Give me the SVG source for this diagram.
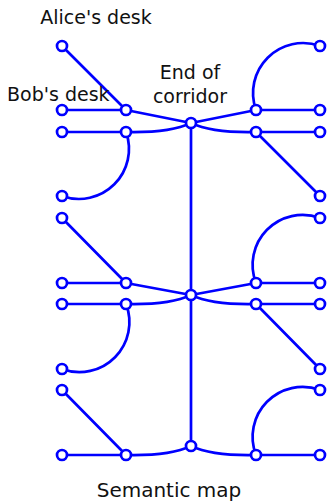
<svg xmlns="http://www.w3.org/2000/svg" width="328" height="502" viewBox="0 0 328 502">
<style>
.e{fill:none;stroke:#0000ff;stroke-width:2.7;stroke-linecap:round}
.n{fill:#ffffff;stroke:#0000ff;stroke-width:2.7}
.t{font-family:"DejaVu Sans",sans-serif;font-size:19px;fill:#111111}
</style>
<rect width="328" height="502" fill="#ffffff"/>
<g id="edges">
<path class="e" d="M191,123 V446"/>
<path class="e" d="M62,46 L126,110"/>
<path class="e" d="M62,110 H126"/>
<path class="e" d="M126,110 L191,123"/>
<path class="e" d="M62,132 H126"/>
<path class="e" d="M126,132 Q170,133 191,123"/>
<path class="e" d="M126,132 A50,50 0 0 1 62,196"/>
<path class="e" d="M191,123 L256,110"/>
<path class="e" d="M191,123 Q212,133 256,132"/>
<path class="e" d="M256,110 H320"/>
<path class="e" d="M256,110 A50,50 0 0 1 320,46"/>
<path class="e" d="M256,132 H320"/>
<path class="e" d="M256,132 L320,196"/>
<path class="e" d="M62,218 L126,283"/>
<path class="e" d="M62,283 H126"/>
<path class="e" d="M126,283 L191,295"/>
<path class="e" d="M62,304 H126"/>
<path class="e" d="M126,304 Q170,305 191,295"/>
<path class="e" d="M126,304 A50,50 0 0 1 62,369"/>
<path class="e" d="M191,295 L256,283"/>
<path class="e" d="M191,295 Q212,305 256,304"/>
<path class="e" d="M256,283 H320"/>
<path class="e" d="M256,283 A50,50 0 0 1 320,218"/>
<path class="e" d="M256,304 H320"/>
<path class="e" d="M256,304 L320,369"/>
<path class="e" d="M62,390 L126,455"/>
<path class="e" d="M62,455 H126"/>
<path class="e" d="M126,455 Q170,456 191,446"/>
<path class="e" d="M191,446 Q212,456 256,455"/>
<path class="e" d="M256,455 H320"/>
<path class="e" d="M256,455 A50,50 0 0 1 320,390"/>
</g>
<g id="n1"><circle class="n" cx="62" cy="46" r="5"/></g>
<g id="n2"><circle class="n" cx="62" cy="110" r="5"/></g>
<g id="n3"><circle class="n" cx="126" cy="110" r="5"/></g>
<g id="n4"><circle class="n" cx="62" cy="132" r="5"/></g>
<g id="n5"><circle class="n" cx="126" cy="132" r="5"/></g>
<g id="n6"><circle class="n" cx="62" cy="196" r="5"/></g>
<g id="n7"><circle class="n" cx="191" cy="123" r="5"/></g>
<g id="n8"><circle class="n" cx="256" cy="110" r="5"/></g>
<g id="n9"><circle class="n" cx="320" cy="110" r="5"/></g>
<g id="n10"><circle class="n" cx="320" cy="46" r="5"/></g>
<g id="n11"><circle class="n" cx="256" cy="132" r="5"/></g>
<g id="n12"><circle class="n" cx="320" cy="132" r="5"/></g>
<g id="n13"><circle class="n" cx="320" cy="196" r="5"/></g>
<g id="n14"><circle class="n" cx="62" cy="218" r="5"/></g>
<g id="n15"><circle class="n" cx="62" cy="283" r="5"/></g>
<g id="n16"><circle class="n" cx="126" cy="283" r="5"/></g>
<g id="n17"><circle class="n" cx="62" cy="304" r="5"/></g>
<g id="n18"><circle class="n" cx="126" cy="304" r="5"/></g>
<g id="n19"><circle class="n" cx="62" cy="369" r="5"/></g>
<g id="n20"><circle class="n" cx="191" cy="295" r="5"/></g>
<g id="n21"><circle class="n" cx="256" cy="283" r="5"/></g>
<g id="n22"><circle class="n" cx="320" cy="283" r="5"/></g>
<g id="n23"><circle class="n" cx="320" cy="218" r="5"/></g>
<g id="n24"><circle class="n" cx="256" cy="304" r="5"/></g>
<g id="n25"><circle class="n" cx="320" cy="304" r="5"/></g>
<g id="n26"><circle class="n" cx="320" cy="369" r="5"/></g>
<g id="n27"><circle class="n" cx="62" cy="390" r="5"/></g>
<g id="n28"><circle class="n" cx="62" cy="455" r="5"/></g>
<g id="n29"><circle class="n" cx="126" cy="455" r="5"/></g>
<g id="n30"><circle class="n" cx="191" cy="446" r="5"/></g>
<g id="n31"><circle class="n" cx="256" cy="455" r="5"/></g>
<g id="n32"><circle class="n" cx="320" cy="455" r="5"/></g>
<g id="n33"><circle class="n" cx="320" cy="390" r="5"/></g>
<g id="labels">
<text class="t" x="96" y="23.5" text-anchor="middle">Alice's desk</text>
<text class="t" x="7" y="101">Bob's desk</text>
<text class="t" x="190" y="79" text-anchor="middle">End of</text>
<text class="t" x="190" y="103" text-anchor="middle">corridor</text>
<text class="t" x="169" y="497" text-anchor="middle" style="font-size:20px">Semantic map</text>
</g>
</svg>
